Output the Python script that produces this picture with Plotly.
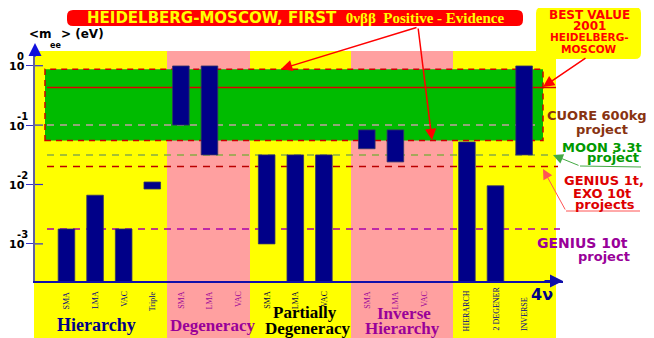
import math
import plotly.graph_objects as go

# ---- data (masses in eV) ----
bar_labels = ["SMA", "LMA", "VAC", "Triple",
              "SMA", "LMA", "VAC",
              "SMA", "LMA", "VAC",
              "SMA", "LMA", "VAC",
              "HIERARCH", "2 DEGENER", "INVERSE"]
# lower end of each bar (None = bar rises from the bottom of the axis)
bar_low = [None, None, None, 0.0084,
           0.1, 0.0315, None,
           0.001, None, None,
           0.04, 0.024, None,
           None, None, 0.0315]
# upper end (None = no bar)
bar_high = [0.00178, 0.0066, 0.00178, 0.011,
            0.99, 0.99, None,
            0.0315, 0.0315, 0.0315,
            0.083, 0.083, None,
            0.052, 0.0095, 0.99]
group_sizes = [4, 3, 3, 3, 3]

hm_low, hm_high, hm_best = 0.055, 0.87, 0.43   # Heidelberg-Moscow 2001
cuore_600kg = 0.1
moon_3t = 0.0315
genius_1t = 0.02
genius_10t = 0.00178
tick_vals = [1, 0.1, 0.01, 0.001]
tick_exp = ["0", "-1", "-2", "-3"]

SANS = "DejaVu Sans, Arial, sans-serif"
SERIF = "Liberation Serif, Times New Roman, serif"
NAVY = "#000088"
PURPLE = "#990099"

# x slot for each bar: small extra gap before the last two groups
pos = []
i = 0
for g, n in enumerate(group_sizes):
    for k in range(n):
        pos.append(i + 0.5 * (g >= 3) + 0.5 * (g >= 4))
        i += 1

# the page puts the figure 8px in from the window corner
OFF = 8
W, H = 654 - OFF, 338 - OFF
# plot area in window pixels 35..563 x 47..281
L, R, T, B = 35, 563, 47, 281
def px(x):
    return (x - L) / (R - L)
def py(y):
    return (B - y) / (B - T)

fig = go.Figure()

# bars from the bottom and floating bars
xb = [p for p, lo, hi in zip(pos, bar_low, bar_high) if hi is not None and lo is None]
yb = [hi for lo, hi in zip(bar_low, bar_high) if hi is not None and lo is None]
xf = [p for p, lo, hi in zip(pos, bar_low, bar_high) if hi is not None and lo is not None]
yf = [hi - lo for lo, hi in zip(bar_low, bar_high) if hi is not None and lo is not None]
bf = [lo for lo, hi in zip(bar_low, bar_high) if hi is not None and lo is not None]
fig.add_trace(go.Bar(x=xb, y=yb, width=0.58, marker_color=NAVY,
                     marker_line_color="#333366", marker_line_width=0.8))
fig.add_trace(go.Bar(x=xf, y=yf, base=bf, width=0.58, marker_color=NAVY,
                     marker_line_color="#333366", marker_line_width=0.8))

shapes = []
# yellow background and pink bands
shapes.append(dict(type="rect", xref="paper", yref="paper", x0=px(34), x1=px(556),
                   y0=py(340), y1=py(51), fillcolor="#FFFF00", line_width=0, layer="below"))
for x0, x1 in [(167, 250), (351, 453)]:
    shapes.append(dict(type="rect", xref="paper", yref="paper", x0=px(x0), x1=px(x1),
                       y0=py(340), y1=py(51), fillcolor="#FFA0A0", line_width=0, layer="below"))
# H-M allowed range
shapes.append(dict(type="rect", xref="paper", yref="y", x0=px(45), x1=px(543),
                   y0=hm_low, y1=hm_high, fillcolor="#00BB00",
                   line=dict(color="#CC0000", width=1.5, dash="6px,5px"), layer="below"))
# reference lines
for val, col, xe in [(cuore_600kg, "#C0A0A0", 538), (moon_3t, "#88AA44", 553),
                     (genius_1t, "#BB0000", 558), (genius_10t, "#AA00AA", 560)]:
    shapes.append(dict(type="line", xref="paper", yref="y", x0=px(47), x1=px(xe),
                       y0=val, y1=val, line=dict(color=col, width=1.5, dash="7px,6px"),
                       layer="below"))
shapes.append(dict(type="line", xref="paper", yref="y", x0=px(47), x1=px(556),
                   y0=hm_best, y1=hm_best, line=dict(color="#DD0000", width=1.5), layer="below"))
# tick marks crossing the axis
for v in tick_vals:
    shapes.append(dict(type="line", xref="paper", yref="y", x0=px(35), x1=px(43),
                       y0=v, y1=v, line=dict(color="#3333CC", width=1.2)))

def rrect(x0, y0, x1, y1, r, fill):
    a, b, c, d = px(x0), py(y0), px(x1), py(y1)
    rx, ry = r / (R - L), r / (B - T)
    path = (f"M{a+rx},{b} L{c-rx},{b} Q{c},{b} {c},{b-ry} L{c},{d+ry} Q{c},{d} {c-rx},{d} "
            f"L{a+rx},{d} Q{a},{d} {a},{d+ry} L{a},{b-ry} Q{a},{b} {a+rx},{b} Z")
    return dict(type="path", xref="paper", yref="paper", path=path,
                fillcolor=fill, line_width=0, layer="above")

shapes.append(rrect(67, 10, 523, 26, 6, "#FF0000"))
shapes.append(rrect(536, 7, 641, 59, 6, "#FFFF00"))
# leader lines for the project labels
shapes.append(dict(type="line", xref="paper", yref="paper", x0=px(580), x1=px(641),
                   y0=py(166), y1=py(167), line=dict(color="#44AA44", width=1)))
shapes.append(dict(type="line", xref="paper", yref="paper", x0=px(566), x1=px(640),
                   y0=py(211), y1=py(211), line=dict(color="#FF5555", width=1)))

ann = []
def text(t, x, y, size, color, family=SANS, xanchor="center", yanchor="middle",
         angle=0, xref="paper"):
    ann.append(dict(text=t, x=x if xref != "paper" else px(x), y=py(y), xref=xref, yref="paper",
                    showarrow=False, font=dict(size=size, color=color, family=family),
                    xanchor=xanchor, yanchor=yanchor, textangle=angle))

def arrow(tx, ty, sx, sy, color, width=1.5, size=1.5):
    ann.append(dict(text="", x=px(tx), y=py(ty), xref="paper", yref="paper", showarrow=True,
                    ax=sx - tx, ay=sy - ty, arrowhead=2, arrowsize=size, arrowwidth=width,
                    arrowcolor=color))

# y tick labels: "10" with the exponent set above its right end
for v, e in zip(tick_vals, tick_exp):
    ann.append(dict(text="<b>10</b>", x=px(26), y=math.log10(v), xref="paper", yref="y",
                    xanchor="right", yanchor="middle", yshift=-1, showarrow=False,
                    borderpad=0, font=dict(size=11, color="black", family=SANS)))
    ann.append(dict(text="<b>" + e + "</b>", x=px(16), y=math.log10(v), xref="paper", yref="y",
                    xanchor="left", yanchor="middle", yshift=9, showarrow=False,
                    borderpad=0, font=dict(size=10, color="black", family=SANS)))

# title
text("<b>HEIDELBERG-MOSCOW, FIRST</b>&nbsp;&nbsp;<b><span style=\"font-family:Liberation Serif\">"
     "0νββ&nbsp;&nbsp;Positive - Evidence</span></b>", 296, 18, 15, "#FFFF00")
arrow(281, 69, 418, 27, "#FF0000")
arrow(432, 140, 418, 27, "#FF0000")

# best value box
text("<b>BEST VALUE</b>", 589, 15, 12, "#FF0000")
text("<b>2001</b>", 589, 26, 12, "#FF0000")
text("<b>HEIDELBERG-</b>", 589, 37, 10.5, "#FF0000")
text("<b>MOSCOW</b>", 589, 49, 10.5, "#FF0000")
arrow(543, 87, 587, 57, "#FF0000")

# axis title
text("<b>&lt;m</b>", 27, 34, 12, "black", xanchor="left")
text("<b>&gt; (eV)</b>", 59, 34, 12, "black", xanchor="left")
text("<b>ee</b>", 48, 45, 8, "black", xanchor="left")

# project labels
text("<b>CUORE 600kg</b>", 597, 116, 13, "#883311")
text("<b>project</b>", 602, 129, 13, "#883311")
text("<b>MOON 3.3t</b>", 602, 147, 13, "#009900")
text("<b>project</b>", 641, 157, 13, "#009900", xanchor="right")
arrow(553, 155, 580, 166, "#44AA44", width=1, size=2)
text("<b>GENIUS 1t,</b>", 604, 180, 13, "#DD0000")
text("<b>EXO 10t</b>", 602, 193, 13, "#DD0000")
text("<b>projects</b>", 605, 204, 13, "#DD0000")
arrow(543, 169, 566, 211, "#FF5555", width=1, size=2)
text("<b>GENIUS 10t</b>", 582, 243, 14, PURPLE)
text("<b>project</b>", 604, 256, 13, PURPLE)
text("<b>4ν</b>", 542, 294, 16, NAVY)

# rotated bar labels
label_cols = [NAVY] * 4 + [PURPLE] * 3 + ["#000044"] * 3 + [PURPLE] * 3 + [NAVY] * 3
for k, (lab, p, col) in enumerate(zip(bar_labels, pos, label_cols)):
    if k >= 13:
        text(lab, p, 333, 8, col, family=SERIF, yanchor="bottom", angle=-90, xref="x")
    else:
        text(lab, p, 289, 8, col, family=SERIF, yanchor="top", angle=-90, xref="x")

# group names
text("<b>Hierarchy</b>", 96, 325, 18, NAVY, family=SERIF)
text("<b>Degeneracy</b>", 212, 325, 17, PURPLE, family=SERIF)
text("<b>Partially</b>", 305, 312, 17, "black", family=SERIF)
text("<b>Degeneracy</b>", 307, 328, 17, "black", family=SERIF)
text("<b>Inverse</b>", 404, 313, 17, PURPLE, family=SERIF)
text("<b>Hierarchy</b>", 402, 328, 17, PURPLE, family=SERIF)

# axis arrow heads
arrow(35, 43, 35, 58, "#1010DD", width=2, size=1.3)
arrow(563, 281, 543, 281, "#1010AA", width=2, size=1.3)

fig.update_layout(
    width=W, height=H,
    margin=dict(l=L - OFF, r=654 - R, t=T - OFF, b=338 - B, autoexpand=False),
    paper_bgcolor="white", plot_bgcolor="rgba(0,0,0,0)",
    showlegend=False, barmode="overlay",
    shapes=shapes, annotations=ann,
)
fig.update_xaxes(range=[-1.10, 17.36], showgrid=False, zeroline=False, showticklabels=False,
                 showline=True, linecolor="#1010AA", linewidth=1.5, ticks="", automargin=False)
fig.update_yaxes(type="log", range=[-3.625, 0.315], showgrid=False, zeroline=False,
                 tickvals=tick_vals, showticklabels=False, automargin=False,
                 ticks="outside", ticklen=7, tickcolor="#3333CC", tickwidth=1.2,
                 showline=True, linecolor="#6060A0", linewidth=1.5)

fig.write_html("out.html")
